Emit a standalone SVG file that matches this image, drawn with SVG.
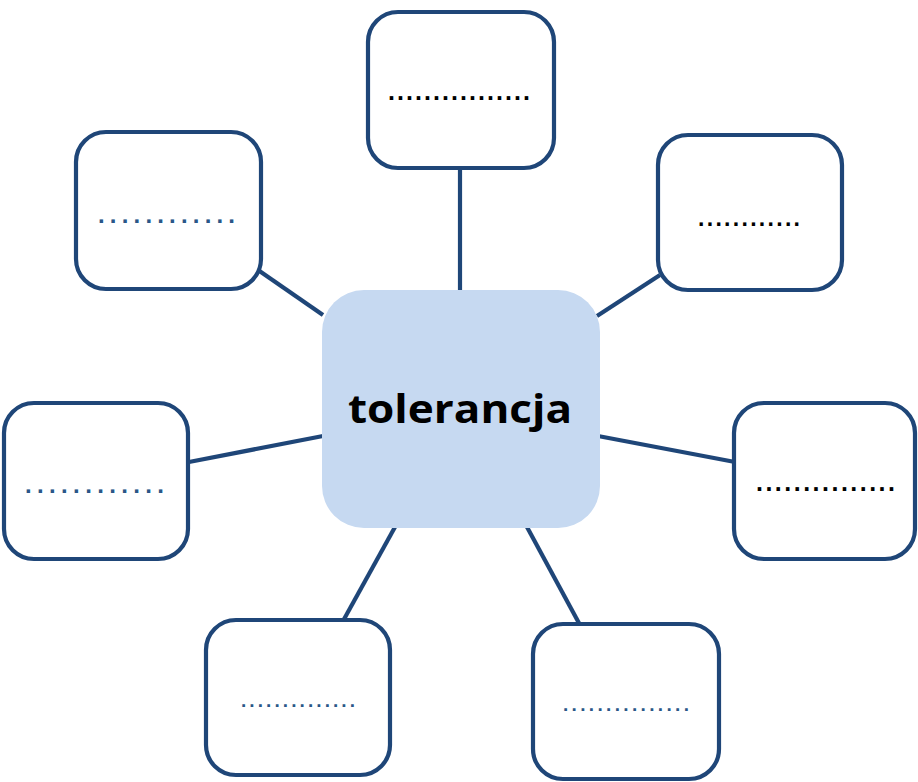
<svg xmlns="http://www.w3.org/2000/svg" width="918" height="782" viewBox="0 0 918 782">
<style>
.box{fill:#ffffff;stroke:#1F4678;stroke-width:4.2}
.center{fill:#C6D9F1;stroke:none}
.link{stroke:#1F4678;stroke-width:4.2;fill:none}
.dk{font-family:"Liberation Sans",Arial,sans-serif;font-weight:bold;fill:#000000}
.bl{font-family:"Liberation Sans",Arial,sans-serif;font-weight:bold;fill:#2A5788}
.title{font-family:"Open Sans","Noto Sans",sans-serif;font-weight:bold;font-size:40px;fill:#000000}
</style>
<rect width="918" height="782" fill="#ffffff"/>
<g id="connectors">
<line class="link" x1="460" y1="168" x2="460" y2="292"/>
<line class="link" x1="258" y1="270" x2="323" y2="315"/>
<line class="link" x1="597" y1="316" x2="660" y2="275"/>
<line class="link" x1="189" y1="462" x2="323" y2="436"/>
<line class="link" x1="598" y1="436" x2="735" y2="462"/>
<line class="link" x1="395" y1="527" x2="343" y2="621"/>
<line class="link" x1="527" y1="527" x2="580" y2="625"/>
</g>
<g id="center">
<rect class="center" x="322" y="290" width="278" height="238" rx="42" ry="42"/>
<text class="title" x="348" y="423" textLength="224" lengthAdjust="spacingAndGlyphs">tolerancja</text>
</g>
<g id="node-top">
<rect class="box" x="368" y="12" width="186" height="156" rx="30" ry="30"/>
<text class="dk" x="388" y="100" font-size="25" textLength="142" lengthAdjust="spacing">................</text>
</g>
<g id="node-top-left">
<rect class="box" x="76" y="132" width="185" height="157" rx="30" ry="30"/>
<text class="bl" x="98" y="223" font-size="24" textLength="137" lengthAdjust="spacing">............</text>
</g>
<g id="node-top-right">
<rect class="box" x="658" y="135" width="184" height="155" rx="30" ry="30"/>
<text class="dk" x="698" y="226" font-size="23" textLength="102" lengthAdjust="spacing">............</text>
</g>
<g id="node-left">
<rect class="box" x="4" y="403" width="184" height="156" rx="30" ry="30"/>
<text class="bl" x="25" y="493" font-size="24" textLength="139" lengthAdjust="spacing">............</text>
</g>
<g id="node-right">
<rect class="box" x="734" y="403" width="181" height="156" rx="30" ry="30"/>
<text class="dk" x="756" y="491" font-size="25" textLength="139" lengthAdjust="spacing">...............</text>
</g>
<g id="node-bottom-left">
<rect class="box" x="206" y="620" width="184" height="155" rx="30" ry="30"/>
<text class="bl" x="241" y="707" font-size="19" textLength="114" lengthAdjust="spacing">..............</text>
</g>
<g id="node-bottom-right">
<rect class="box" x="533" y="624" width="186" height="155" rx="30" ry="30"/>
<text class="bl" x="563" y="711" font-size="19" textLength="126" lengthAdjust="spacing">...............</text>
</g>
</svg>
